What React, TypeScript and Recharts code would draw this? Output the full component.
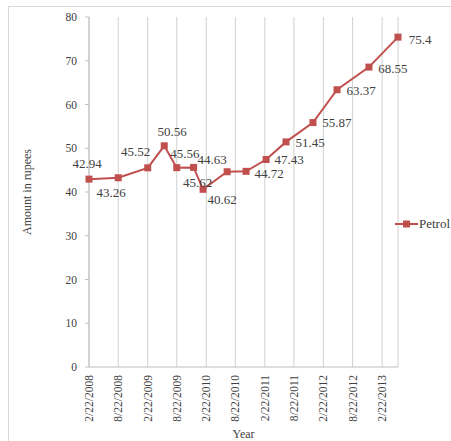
import { LineChart, Line, XAxis, YAxis, CartesianGrid, Legend, LabelList, Label } from 'recharts'

const PRICE_DATES = [
  '2/22/2008', '8/22/2008', '2/22/2009', '6/5/2009', '8/22/2009',
  '12/5/2009', '2/2/2010', '7/2/2010', '10/28/2010', '3/2/2011',
  '7/4/2011', '12/19/2011', '5/17/2012', '12/2/2012', '6/1/2013',
]
const PETROL_PRICES = [
  42.94, 43.26, 45.52, 50.56, 45.56, 45.62, 40.62, 44.63, 44.72, 47.43,
  51.45, 55.87, 63.37, 68.55, 75.4,
]
const X_TICK_LABELS = [
  '2/22/2008', '8/22/2008', '2/22/2009', '8/22/2009', '2/22/2010', '8/22/2010',
  '2/22/2011', '8/22/2011', '2/22/2012', '8/22/2012', '2/22/2013',
]
const Y_TICKS = [0, 10, 20, 30, 40, 50, 60, 70, 80]

// where each value label sits, relative to its marker (text centre)
const LABEL_OFFSETS: [number, number][] = [
  [-2, -16], [-7, 15], [-12, -16], [8, -14], [8, -14],
  [4, 15], [19, 10], [-15, -12], [23, 2], [23, 0],
  [24, 1], [24, 0], [24, 1], [24, 1], [22, 2],
]

const FONT = '"Liberation Serif", "Times New Roman", serif'
const RED = '#c0504d'
const TEXT = '#404040'

const toTime = (s: string) => {
  const [m, d, y] = s.split('/').map(Number)
  return Date.UTC(y, m - 1, d)
}

const chartData = PRICE_DATES.map((date, i) => ({
  t: toTime(date),
  petrol: PETROL_PRICES[i],
}))
const xTicks = X_TICK_LABELS.map(toTime)
const tickLabelByTime = new Map(xTicks.map((t, i) => [t, X_TICK_LABELS[i]]))

const SquareDot = (props: any) => {
  const { cx, cy } = props
  if (cx == null || cy == null) return null
  return <rect x={cx - 3.5} y={cy - 3.5} width={7} height={7} fill={RED} />
}

const DateTick = (props: any) => {
  const { x, y, payload } = props
  return (
    <text
      x={x}
      y={y}
      transform={`rotate(-90, ${x}, ${y})`}
      textAnchor="end"
      dominantBaseline="central"
      fontFamily={FONT}
      fontSize={11.5}
      fill={TEXT}
    >
      {tickLabelByTime.get(payload.value) ?? ''}
    </text>
  )
}

const ValueLabel = (props: any) => {
  const { x, y, value, index } = props
  const [dx, dy] = LABEL_OFFSETS[index] ?? [0, -14]
  return (
    <text
      x={x + dx}
      y={y + dy}
      textAnchor="middle"
      dominantBaseline="central"
      fontFamily={FONT}
      fontSize={13}
      fill={TEXT}
    >
      {value}
    </text>
  )
}

const LegendBox = () => (
  <div style={{ display: 'flex', alignItems: 'center', fontFamily: FONT, fontSize: 13, color: TEXT }}>
    <svg width={23} height={14}>
      <line x1={0} y1={7} x2={23} y2={7} stroke={RED} strokeWidth={2} />
      <rect x={8} y={3.5} width={7} height={7} fill={RED} />
    </svg>
    <span style={{ marginLeft: 1, whiteSpace: 'nowrap' }}>Petrol</span>
  </div>
)

export default function App() {
  return (
    <div style={{ position: 'absolute', left: 0, top: 0, width: 451, height: 441, overflow: 'hidden', background: '#fff' }}>
      <div
        style={{
          position: 'absolute',
          left: 8,
          top: 6,
          width: 470,
          height: 470,
          border: '1px solid #d9d9d9',
        }}
      />
      <LineChart
        width={451}
        height={441}
        data={chartData}
        margin={{ top: 17, right: 53, bottom: 14, left: 0 }}
        style={{ position: 'absolute', left: 0, top: 0 }}
      >
        <CartesianGrid horizontal={false} stroke="#d0d0d0" />
        <XAxis
          dataKey="t"
          type="number"
          scale="time"
          domain={[chartData[0].t, chartData[chartData.length - 1].t]}
          ticks={xTicks}
          interval={0}
          height={60}
          tickLine={false}
          tickSize={6}
          tickMargin={2}
          axisLine={{ stroke: '#bfbfbf' }}
          tick={<DateTick />}
        >
          <Label
            content={(p: any) => {
              const vb = p.viewBox
              return (
                <text
                  x={vb.x + vb.width / 2}
                  y={434}
                  textAnchor="middle"
                  dominantBaseline="central"
                  fontFamily={FONT}
                  fontSize={12}
                  fill={TEXT}
                >
                  Year
                </text>
              )
            }}
          />
        </XAxis>
        <YAxis
          width={89}
          domain={[0, 80]}
          ticks={Y_TICKS}
          interval={0}
          tickSize={4}
          tickMargin={8}
          axisLine={{ stroke: '#bfbfbf' }}
          tickLine={{ stroke: '#bfbfbf' }}
          tick={{ fontFamily: FONT, fontSize: 11.5, fill: TEXT }}
        >
          <Label
            content={(p: any) => {
              const vb = p.viewBox
              const cy = vb.y + vb.height / 2
              return (
                <text
                  x={27}
                  y={cy}
                  transform={`rotate(-90, 27, ${cy})`}
                  textAnchor="middle"
                  dominantBaseline="central"
                  fontFamily={FONT}
                  fontSize={12}
                  fill={TEXT}
                >
                  Amount in rupees
                </text>
              )
            }}
          />
        </YAxis>
        <Legend
          layout="horizontal"
          align="center"
          verticalAlign="middle"
          wrapperStyle={{ left: 395, top: 216, width: 80 }}
          content={<LegendBox />}
        />
        <Line
          dataKey="petrol"
          name="Petrol"
          type="linear"
          stroke={RED}
          strokeWidth={2}
          dot={<SquareDot />}
          activeDot={false}
          isAnimationActive={false}
        >
          <LabelList dataKey="petrol" content={<ValueLabel />} />
        </Line>
      </LineChart>
    </div>
  )
}
